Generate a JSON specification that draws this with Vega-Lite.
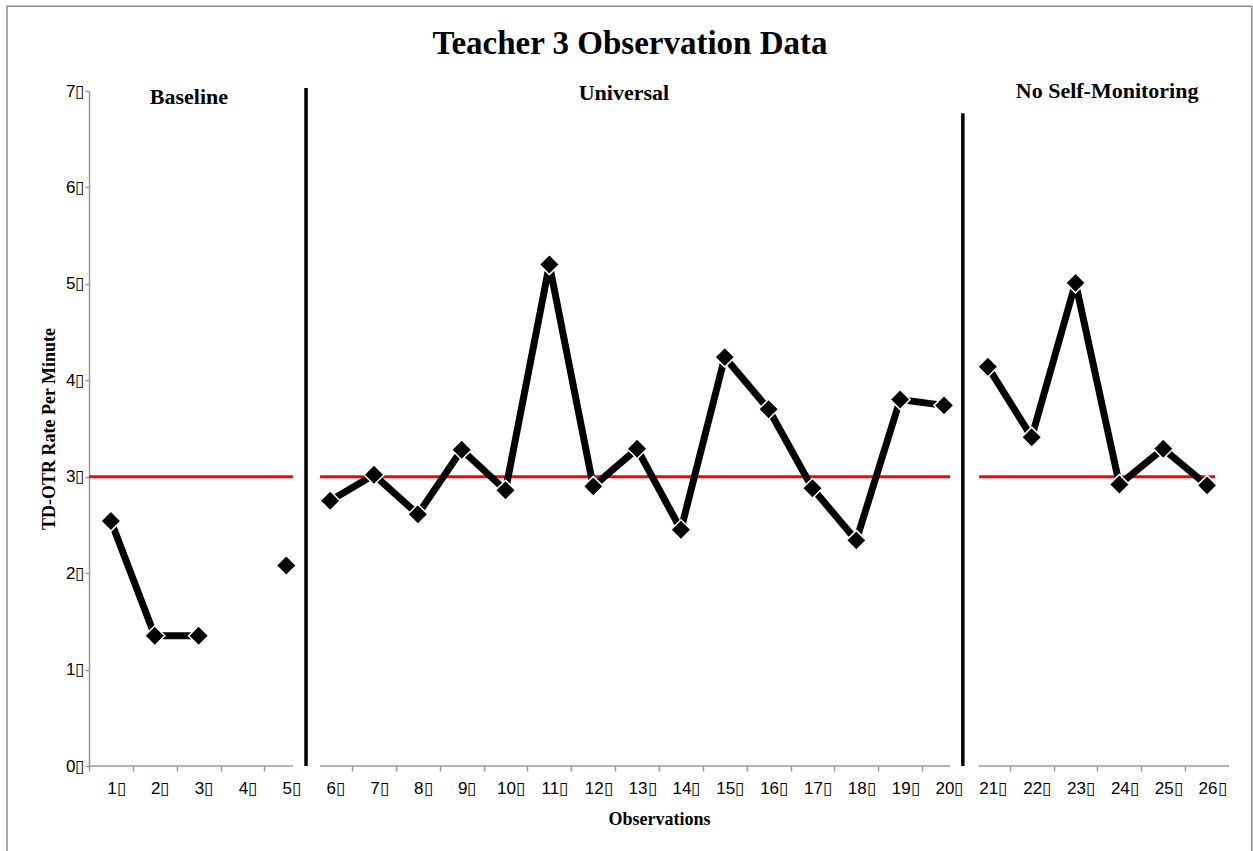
{
  "$schema": "https://vega.github.io/schema/vega-lite/v6.json",
  "autosize": {"type": "none"},
  "width": 1140,
  "height": 675,
  "padding": {"left": 89, "top": 91, "right": 24, "bottom": 85},
  "background": "white",
  "config": {"view": {"stroke": null}, "axis": {"labelOverlap": false}},
  "title": {
    "text": "Teacher 3 Observation Data",
    "font": "Liberation Serif",
    "fontSize": 33,
    "fontWeight": "bold",
    "color": "black",
    "anchor": "middle",
    "baseline": "alphabetic",
    "dx": -29,
    "offset": -82
  },
  "datasets": {
    "obs": [
      {"obs": 1, "rate": 2.54, "phase": "Baseline"},
      {"obs": 2, "rate": 1.35, "phase": "Baseline"},
      {"obs": 3, "rate": 1.35, "phase": "Baseline"},
      {"obs": 4, "rate": null, "phase": "Baseline"},
      {"obs": 5, "rate": 2.08, "phase": "Baseline"},
      {"obs": 6, "rate": 2.75, "phase": "Universal"},
      {"obs": 7, "rate": 3.02, "phase": "Universal"},
      {"obs": 8, "rate": 2.61, "phase": "Universal"},
      {"obs": 9, "rate": 3.28, "phase": "Universal"},
      {"obs": 10, "rate": 2.86, "phase": "Universal"},
      {"obs": 11, "rate": 5.2, "phase": "Universal"},
      {"obs": 12, "rate": 2.9, "phase": "Universal"},
      {"obs": 13, "rate": 3.29, "phase": "Universal"},
      {"obs": 14, "rate": 2.45, "phase": "Universal"},
      {"obs": 15, "rate": 4.24, "phase": "Universal"},
      {"obs": 16, "rate": 3.7, "phase": "Universal"},
      {"obs": 17, "rate": 2.88, "phase": "Universal"},
      {"obs": 18, "rate": 2.34, "phase": "Universal"},
      {"obs": 19, "rate": 3.8, "phase": "Universal"},
      {"obs": 20, "rate": 3.74, "phase": "Universal"},
      {"obs": 21, "rate": 4.14, "phase": "No Self-Monitoring"},
      {"obs": 22, "rate": 3.41, "phase": "No Self-Monitoring"},
      {"obs": 23, "rate": 5.01, "phase": "No Self-Monitoring"},
      {"obs": 24, "rate": 2.92, "phase": "No Self-Monitoring"},
      {"obs": 25, "rate": 3.29, "phase": "No Self-Monitoring"},
      {"obs": 26, "rate": 2.91, "phase": "No Self-Monitoring"}
    ],
    "criterion": [
      {"start": 0.5, "end": 5.15, "rate": 3},
      {"start": 5.77, "end": 20.14, "rate": 3},
      {"start": 20.8, "end": 26.18, "rate": 3}
    ],
    "phaseChange": [
      {"obs": 5.45, "low": 0, "high": 7.03},
      {"obs": 20.43, "low": 0, "high": 6.77}
    ],
    "baseAxis": [
      {"start": 0.5, "end": 5.15, "rate": 0},
      {"start": 5.77, "end": 20.14, "rate": 0},
      {"start": 20.8, "end": 26.5, "rate": 0}
    ],
    "phaseLabels": [
      {"label": "Baseline", "obs": 2.78, "rate": 6.94},
      {"label": "Universal", "obs": 12.7, "rate": 6.98},
      {"label": "No Self-Monitoring", "obs": 23.72, "rate": 7.0}
    ],
    "frame": [
      {"left": -1.37, "right": 27.02, "top": 7.88, "bottom": -1.2}
    ]
  },
  "layer": [
    {
      "data": {"name": "frame"},
      "mark": {"type": "rect", "fill": null, "stroke": "#8c8c8c", "strokeWidth": 1.5, "clip": false},
      "encoding": {
        "x": {
          "field": "left",
          "type": "quantitative",
          "scale": {"domain": [0.5, 26.5], "nice": false, "zero": false},
          "axis": {
            "values": [1, 2, 3, 4, 5, 6, 7, 8, 9, 10, 11, 12, 13, 14, 15, 16, 17, 18, 19, 20, 21, 22, 23, 24, 25, 26],
            "labelExpr": "datum.value + '▯'",
            "domain": false,
            "grid": false,
            "ticks": true,
            "tickSize": 5,
            "tickColor": "#999999",
            "tickWidth": 1.5,
            "tickOffset": -21.92,
            "tickOpacity": {"condition": {"test": "datum.value == 6 || datum.value == 21", "value": 0}, "value": 1},
            "labelFont": "Liberation Sans",
            "labelFontSize": 17,
            "labelColor": "black",
            "labelPadding": 9,
            "labelOffset": 26.9,
            "labelOverlap": false,
            "labelBound": false,
            "labelFlush": false,
            "title": "Observations",
            "titleFont": "Liberation Serif",
            "titleFontSize": 18,
            "titleFontWeight": "bold",
            "titleColor": "black",
            "titlePadding": 14
          }
        },
        "x2": {"field": "right"},
        "y": {
          "field": "top",
          "type": "quantitative",
          "scale": {"domain": [0, 7], "nice": false, "zero": false},
          "axis": {
            "values": [0, 1, 2, 3, 4, 5, 6, 7],
            "labelExpr": "datum.value + '▯'",
            "grid": false,
            "domainColor": "#999999",
            "domainWidth": 1.5,
            "tickColor": "#999999",
            "tickWidth": 1.5,
            "tickSize": 4,
            "labelFont": "Liberation Sans",
            "labelFontSize": 17,
            "labelColor": "black",
            "labelPadding": 1,
            "labelOverlap": false,
            "labelBound": false,
            "labelFlush": false,
            "title": "TD-OTR Rate Per Minute",
            "titleFont": "Liberation Serif",
            "titleFontSize": 18,
            "titleFontWeight": "bold",
            "titleColor": "black",
            "titlePadding": 7
          }
        },
        "y2": {"field": "bottom"}
      }
    },
    {
      "data": {"name": "baseAxis"},
      "mark": {"type": "rule", "color": "#999999", "strokeWidth": 1.5},
      "encoding": {
        "x": {"field": "start", "type": "quantitative"},
        "x2": {"field": "end"},
        "y": {"field": "rate", "type": "quantitative"}
      }
    },
    {
      "data": {"name": "criterion"},
      "mark": {"type": "rule", "color": "#ff0000", "strokeWidth": 3},
      "encoding": {
        "x": {"field": "start", "type": "quantitative"},
        "x2": {"field": "end"},
        "y": {"field": "rate", "type": "quantitative"}
      }
    },
    {
      "data": {"name": "phaseChange"},
      "mark": {"type": "rule", "color": "black", "strokeWidth": 3.5},
      "encoding": {
        "x": {"field": "obs", "type": "quantitative"},
        "y": {"field": "low", "type": "quantitative"},
        "y2": {"field": "high"}
      }
    },
    {
      "data": {"name": "phaseLabels"},
      "mark": {"type": "text", "font": "Liberation Serif", "fontSize": 22, "fontWeight": "bold", "color": "black", "align": "center", "baseline": "middle"},
      "encoding": {
        "x": {"field": "obs", "type": "quantitative"},
        "y": {"field": "rate", "type": "quantitative"},
        "text": {"field": "label"}
      }
    },
    {
      "data": {"name": "obs"},
      "mark": {"type": "line", "color": "black", "strokeWidth": 7, "invalid": "break-paths-show-domains"},
      "encoding": {
        "x": {"field": "obs", "type": "quantitative"},
        "y": {"field": "rate", "type": "quantitative"},
        "detail": {"field": "phase"}
      }
    },
    {
      "data": {"name": "obs"},
      "mark": {"type": "point", "shape": "diamond", "filled": true, "size": 400, "color": "black", "stroke": "white", "strokeWidth": 1.5, "opacity": 1},
      "encoding": {
        "x": {"field": "obs", "type": "quantitative"},
        "y": {"field": "rate", "type": "quantitative"}
      }
    }
  ]
}
